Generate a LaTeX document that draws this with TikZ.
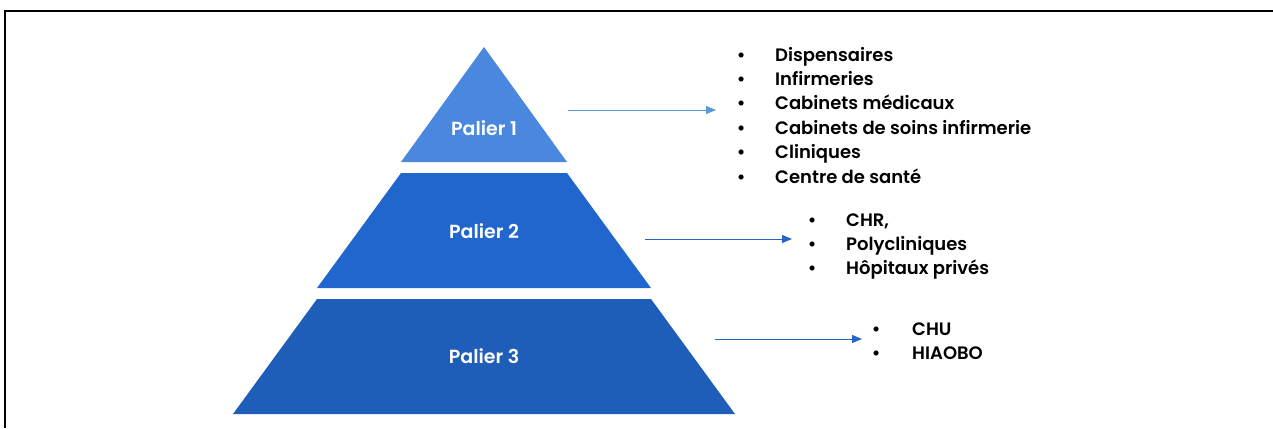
\documentclass[tikz,border=0pt]{standalone}
\usepackage{fontspec}
\setmainfont{Poppins}[BoldFont={Poppins SemiBold}]
\usetikzlibrary{arrows.meta,positioning,calc}
\definecolor{tierA}{RGB}{74,136,224}
\definecolor{tierB}{RGB}{33,102,204}
\definecolor{tierC}{RGB}{31,94,184}
\definecolor{linkA}{RGB}{91,155,213}
\definecolor{linkB}{RGB}{38,100,200}
\tikzset{
  tierlbl/.style={text=white, font=\bfseries\fontsize{19}{22}\selectfont},
  listtxt/.style={anchor=base west, inner sep=0pt, font=\bfseries\fontsize{18}{24.4}\selectfont},
  link/.style={-{Triangle[length=10pt,width=8pt]}, line width=1pt},
  frameln/.style={line width=2pt, black},
}
\newcommand{\itm}{\makebox[8pt][c]{\textbullet}}

\begin{document}
\begin{tikzpicture}[x=1pt,y=-1pt]
  \useasboundingbox (0,0) rectangle (1273,428);
  \draw[frameln] (5,428) -- (5,11) -- (1273,11);
  % pyramid
  \fill[tierA] (484,47) -- (567,162) -- (401,162) -- cycle;
  \fill[tierB] (401,173) -- (567,173) -- (651,288) -- (317,288) -- cycle;
  \fill[tierC] (317,299) -- (651,299) -- (735,414) -- (233,414) -- cycle;
  \node[tierlbl] (p1) at (484,128) {Palier 1};
  \node[tierlbl] (p2) at (484,231) {Palier 2};
  \node[tierlbl] (p3) at (484,356) {Palier 3};
  % lists
  \node[listtxt] (l1) at (737,61) {\begin{tabular}[t]{@{}l@{\hspace{30pt}}l@{}}
    \itm & Dispensaires\\
    \itm & Infirmeries\\
    \itm & Cabinets médicaux\\
    \itm & Cabinets de soins infirmerie\\
    \itm & Cliniques\\
    \itm & Centre de santé
  \end{tabular}};
  \node[listtxt] (l2) at (808,226) {\begin{tabular}[t]{@{}l@{\hspace{30pt}}l@{}}
    \itm & CHR,\\
    \itm & Polycliniques\\
    \itm & Hôpitaux privés
  \end{tabular}};
  \node[listtxt] (l3) at (872,335) {\begin{tabular}[t]{@{}l@{\hspace{32pt}}l@{}}
    \itm & CHU\\
    \itm & HIAOBO
  \end{tabular}};
  % arrows
  \coordinate (s1) at (568,110);
  \coordinate (e1) at (716,110);
  \coordinate (s2) at (645,239);
  \coordinate (e2) at (792,239);
  \coordinate (s3) at (715,339);
  \coordinate (e3) at (862,339);
  \draw[link, linkA] (s1) -- (e1);
  \draw[link, linkB] (s2) -- (e2);
  \draw[link, linkB] (s3) -- (e3);
\end{tikzpicture}
\end{document}
